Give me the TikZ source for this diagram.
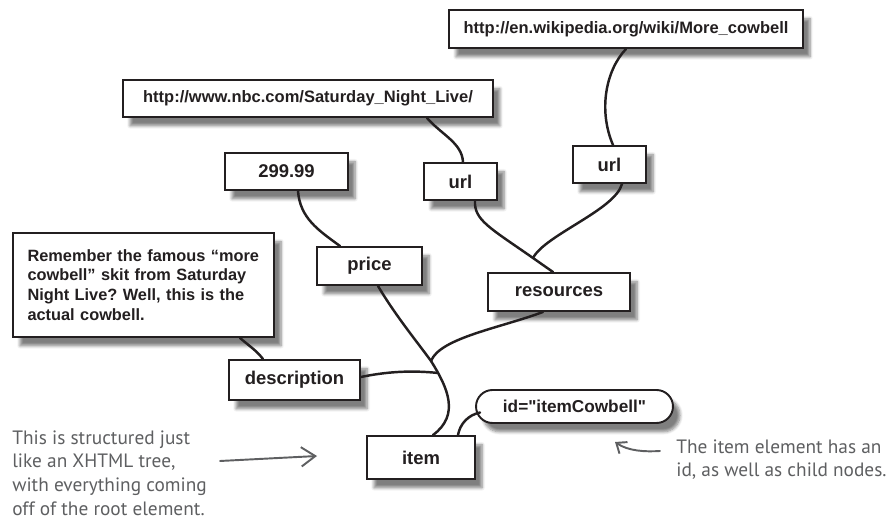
\documentclass[tikz,border=0pt]{standalone}
\usepackage{fontspec}
\newfontfamily\boxfont{Liberation Sans}
\newfontfamily\handfont{PT Sans}
\usetikzlibrary{arrows.meta, shadows.blur}
\definecolor{ink}{HTML}{231F20}
\definecolor{pencil}{HTML}{5E5F61}
\frenchspacing

\begin{document}
\begin{tikzpicture}[x=0.02cm, y=-0.02cm,
    tree/.style={rectangle, draw=ink, fill=white, line width=1.1pt, text=ink,
                 inner sep=2pt, font=\boxfont\bfseries\fontsize{10.5}{12}\selectfont,
                 blur shadow={shadow xshift=4pt, shadow yshift=-5pt,
                              shadow blur steps=6, shadow opacity=50}},
    urlbox/.style={tree, font=\boxfont\bfseries\fontsize{9.4}{11}\selectfont},
    blurbbox/.style={tree, font=\boxfont\bfseries\fontsize{9.3}{11.3}\selectfont,
                     align=left, inner xsep=0.29cm, text width=4.64cm},
    attr/.style={tree, rounded corners=0.33cm, font=\boxfont\bfseries\fontsize{9.8}{11}\selectfont},
    link/.style={draw=ink, line width=1.4pt, line cap=round},
    hand/.style={font=\handfont\fontsize{11}{13.6}\selectfont, text=pencil,
                 align=left, inner sep=0pt},
    pointer/.style={draw=pencil, line width=1.1pt, line cap=round,
                    -{Straight Barb[length=8pt, width=11pt]}},
]
\useasboundingbox (0,0) rectangle (889,526);

% ================================================== the boxes
\node[urlbox, minimum width=7.08cm, minimum height=0.76cm] (wiki) at (626,29)
     {http://en.wikipedia.org/wiki/More\_cowbell};
\node[urlbox, minimum width=7.4cm, minimum height=0.74cm] (nbc) at (308,98.5)
     {http://www.nbc.com/Saturday\_Night\_Live/};
\node[tree, minimum width=2.46cm, minimum height=0.74cm] (cost) at (286.5,171.5) {299.99};
\node[tree, minimum width=1.46cm, minimum height=0.74cm] (urlA) at (460.5,181.5) {url};
\node[tree, minimum width=1.46cm, minimum height=0.74cm] (urlB) at (609.5,164.5) {url};
\node[tree, minimum width=2.1cm, minimum height=0.76cm] (price) at (369.5,266) {price};
\node[tree, minimum width=2.84cm, minimum height=0.76cm] (res) at (559,292) {resources};
\node[blurbbox, minimum height=2.08cm] (blurb) at (143.5,285)
     {Remember the famous “more cowbell” skit from Saturday Night Live? Well, this is the actual cowbell.};
\node[tree, minimum width=2.62cm, minimum height=0.8cm] (desc) at (294.5,380) {description};
\node[tree, minimum width=2.16cm, minimum height=0.86cm] (item) at (421,457.5) {item};
\node[attr, minimum width=3.94cm, minimum height=0.66cm] (id) at (574.5,406.5) {id="itemCowbell"};

% ================================================== the branches
\coordinate (resjoin) at (533,258);
\coordinate (trunk) at (431,361);
\coordinate (descjoin) at (438,373);

\draw[link] (wiki.south) .. controls (606,70) and (598,110) .. ([xshift=0.07cm]urlB.north);
\draw[link] ([xshift=2.38cm]nbc.south) .. controls (442,135) and (462,143) .. ([xshift=0.05cm]urlA.north);
\draw[link] ([xshift=0.23cm]cost.south) .. controls (300,218) and (318,230) .. ([xshift=-0.59cm]price.north);
\draw[link] ([xshift=0.29cm]urlA.south) .. controls (474,220) and (490,228) .. (resjoin)
     -- ([xshift=-0.12cm]res.north);
\draw[link] ([xshift=0.25cm]urlB.south) .. controls (615,210) and (545,235) .. (resjoin);
\draw[link] ([xshift=0.17cm]price.south) .. controls (395,315) and (418,343) .. (trunk)
     .. controls (448,388) and (460,415) .. ([xshift=0.24cm]item.north);
\draw[link] ([xshift=-0.32cm]res.south) .. controls (500,328) and (440,338) .. (trunk);
\draw[link] ([yshift=0.06cm]desc.east) .. controls (385,372) and (410,370) .. (descjoin);
\draw[link] ([xshift=1.93cm]blurb.south) .. controls (248,345) and (256,350) .. ([xshift=-0.63cm]desc.north);
\draw[link] ([xshift=0.1cm, yshift=-0.12cm]id.west) .. controls (468,415) and (460,424)
     .. ([xshift=0.74cm]item.north);

% ================================================== the notes
\node[hand, anchor=north west] (xnote) at (12,430)
     {This is structured just\\ like an XHTML tree,\\ with everything coming\\ off of the root element.};
\node[hand, anchor=north west] (inote) at (676,439)
     {The item element has an\\ id, as well as child nodes.};

\coordinate (xtail) at (220,461);
\coordinate (xtip) at (317,456);
\draw[pointer] (xtail) -- (xtip);
\coordinate (itail) at (660,451);
\coordinate (itip) at (615,442);
\draw[pointer, -{Straight Barb[length=5pt, width=8pt]}] (itail) .. controls (645,452) and (628,451) .. (itip);

\end{tikzpicture}
\end{document}
